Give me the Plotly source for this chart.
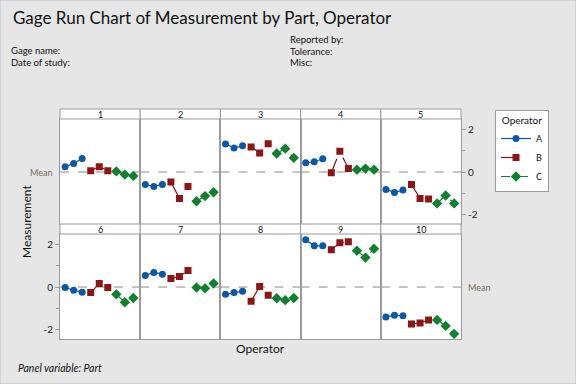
import plotly.graph_objects as go
from plotly.subplots import make_subplots

# ---------------- data ----------------
parts = ["1", "2", "3", "4", "5", "6", "7", "8", "9", "10"]
operators = ["A", "B", "C"]
A_vals = [[0.25, 0.40, 0.63], [-0.58, -0.67, -0.58], [1.31, 1.12, 1.22], [0.43, 0.48, 0.62],
          [-0.81, -0.95, -0.84], [-0.02, -0.15, -0.24], [0.54, 0.68, 0.60], [-0.34, -0.26, -0.20],
          [2.20, 1.92, 1.92], [-1.40, -1.31, -1.34]]
B_vals = [[0.06, 0.25, 0.06], [-0.46, -1.23, -0.67], [1.17, 0.89, 1.32], [-0.03, 0.97, 0.16],
          [-0.58, -1.23, -1.26], [-0.26, 0.17, -0.02], [0.40, 0.49, 0.77], [-0.66, 0.03, -0.38],
          [1.74, 2.06, 2.11], [-1.72, -1.67, -1.53]]
C_vals = [[0.03, -0.12, -0.18], [-1.36, -1.12, -0.94], [0.86, 1.09, 0.66], [0.11, 0.16, 0.11],
          [-1.46, -1.09, -1.46], [-0.34, -0.71, -0.51], [-0.02, -0.06, 0.17], [-0.52, -0.61, -0.51],
          [1.69, 1.37, 1.78], [-1.53, -1.81, -2.18]]
mean_value = 0.0
y_ticks = [-2, 0, 2]
y_tick_labels = ["-2", "0", "2"]

# ---------------- style ----------------
W, H = 576, 384
FONT = "Lato"
BG = "#E6E6E6"
GRID = "#9B9B9B"
styles = {
    "A": dict(color="#0B58A8", symbol="circle", size=7, dash="solid"),
    "B": dict(color="#8E1515", symbol="square", size=7, dash="longdash"),
    "C": dict(color="#0E8030", symbol="diamond", size=8, dash="dash"),
}
op_vals = {"A": A_vals, "B": B_vals, "C": C_vals}

fig = make_subplots(rows=2, cols=5, horizontal_spacing=0, vertical_spacing=0)

def px_x(x):
    return x / W

def px_y(y):
    return 1 - y / H

col_edges = [60, 140.2, 220.4, 300.6, 380.8, 461]
row_plot = [(119, 224), (234, 339)]
row_strip = [(109, 119), (224, 234)]

shapes = []
annotations = []

for i, part in enumerate(parts):
    r, c = divmod(i, 5)
    n = i + 1
    for k, op in enumerate(operators):
        st = styles[op]
        xs = [3 * k + j + 1 for j in range(3)]
        fig.add_trace(go.Scatter(
            x=xs, y=op_vals[op][i], mode="lines+markers", name=op,
            legendgroup=op, showlegend=(i == 0),
            line=dict(color=st["color"], width=1.2, dash=st["dash"]),
            marker=dict(color=st["color"], symbol=st["symbol"], size=st["size"]),
        ), row=r + 1, col=c + 1)
    xa = "xaxis" if n == 1 else f"xaxis{n}"
    ya = "yaxis" if n == 1 else f"yaxis{n}"
    x0, x1 = col_edges[c], col_edges[c + 1]
    yt, yb = row_plot[r]
    fig.layout[xa].update(domain=[px_x(x0), px_x(x1)], range=[0.4, 9.8], showticklabels=False,
                          ticks="", showgrid=False, zeroline=False, showline=True, mirror=True,
                          linecolor=GRID, linewidth=1)
    yargs = dict(domain=[px_y(yb), px_y(yt)], range=[-2.42, 2.47], showgrid=False, zeroline=False,
                 showline=True, mirror=True, linecolor=GRID, linewidth=1,
                 showticklabels=False, ticks="")
    if n in (5, 6):
        yargs.update(showticklabels=True, ticks="outside", ticklen=4, tickcolor=GRID,
                     tickvals=y_ticks, ticktext=y_tick_labels,
                     side="left" if n == 6 else "right",
                     tickfont=dict(family=FONT, size=10, color="#222"),
                     minor=dict(tickvals=[-1, 1], ticks="outside", ticklen=3, tickcolor=GRID))
    fig.layout[ya].update(**yargs)
    # mean line
    shapes.append(dict(type="line", xref=f"x{n} domain" if n > 1 else "x domain",
                       yref=f"y{n}" if n > 1 else "y", x0=0, x1=1, y0=mean_value, y1=mean_value,
                       line=dict(color="#8C8C8C", width=1, dash="dash"), layer="below"))
    # strip
    st_t, st_b = row_strip[r]
    shapes.append(dict(type="rect", xref="paper", yref="paper", x0=px_x(x0), x1=px_x(x1),
                       y0=px_y(st_b), y1=px_y(st_t), fillcolor="white",
                       line=dict(color=GRID, width=1)))
    annotations.append(dict(text=part, xref="paper", yref="paper", x=px_x((x0 + x1) / 2),
                            y=px_y((st_t + st_b) / 2), showarrow=False, xanchor="center",
                            yanchor="middle", font=dict(family=FONT, size=9, color="#111")))

# Mean labels
annotations.append(dict(text="Mean", xref="paper", yref="y", x=px_x(54), y=mean_value,
                        xanchor="right", yanchor="middle", showarrow=False,
                        font=dict(family=FONT, size=9, color="#7A6E5E")))
annotations.append(dict(text="Mean", xref="paper", yref="y10", x=px_x(466), y=mean_value,
                        xanchor="left", yanchor="middle", showarrow=False,
                        font=dict(family=FONT, size=9, color="#7A6E5E")))

# header texts
annotations.append(dict(text="Gage Run Chart of Measurement by Part, Operator", xref="paper",
                        yref="paper", x=px_x(11), y=px_y(17), xanchor="left", yanchor="middle",
                        showarrow=False, font=dict(family=FONT, size=17, color="#111")))
for txt, x, y in [("Gage name:", 9, 50), ("Date of study:", 9, 62),
                  ("Reported by:", 288, 39), ("Tolerance:", 288, 51), ("Misc:", 288, 62)]:
    annotations.append(dict(text=txt, xref="paper", yref="paper", x=px_x(x), y=px_y(y),
                            xanchor="left", yanchor="middle", showarrow=False,
                            font=dict(family=FONT, size=9.5, color="#111")))
annotations.append(dict(text="Measurement", xref="paper", yref="paper", x=px_x(26), y=px_y(222),
                        xanchor="center", yanchor="middle", textangle=-90, showarrow=False,
                        font=dict(family=FONT, size=12, color="#111")))
annotations.append(dict(text="Operator", xref="paper", yref="paper", x=px_x(260), y=px_y(348),
                        xanchor="center", yanchor="middle", showarrow=False,
                        font=dict(family=FONT, size=12, color="#111")))
annotations.append(dict(text="<i>Panel variable: Part</i>", xref="paper", yref="paper",
                        x=px_x(16), y=px_y(368), xanchor="left", yanchor="middle", showarrow=False,
                        font=dict(family=FONT, size=10.5, color="#111")))

# outer border
shapes.append(dict(type="rect", xref="paper", yref="paper", x0=0, x1=1, y0=0, y1=1,
                   line=dict(color="#BDBDBD", width=1), layer="below"))

fig.update_layout(
    width=W, height=H, margin=dict(l=0, r=0, t=0, b=0),
    paper_bgcolor=BG, plot_bgcolor="white",
    shapes=shapes, annotations=annotations,
    font=dict(family=FONT, size=10, color="#111"),
    legend=dict(x=px_x(495), y=px_y(110), xanchor="left", yanchor="top",
                bgcolor="white", bordercolor=GRID, borderwidth=1,
                title=dict(text="Operator", side="top center", font=dict(family=FONT, size=10)),
                font=dict(family=FONT, size=9), tracegroupgap=0, itemwidth=30,
                entrywidth=48),
)

fig.write_html("out.html", config={"displayModeBar": False},
               post_script="document.body.style.margin='0px';document.body.style.overflow='hidden';")
